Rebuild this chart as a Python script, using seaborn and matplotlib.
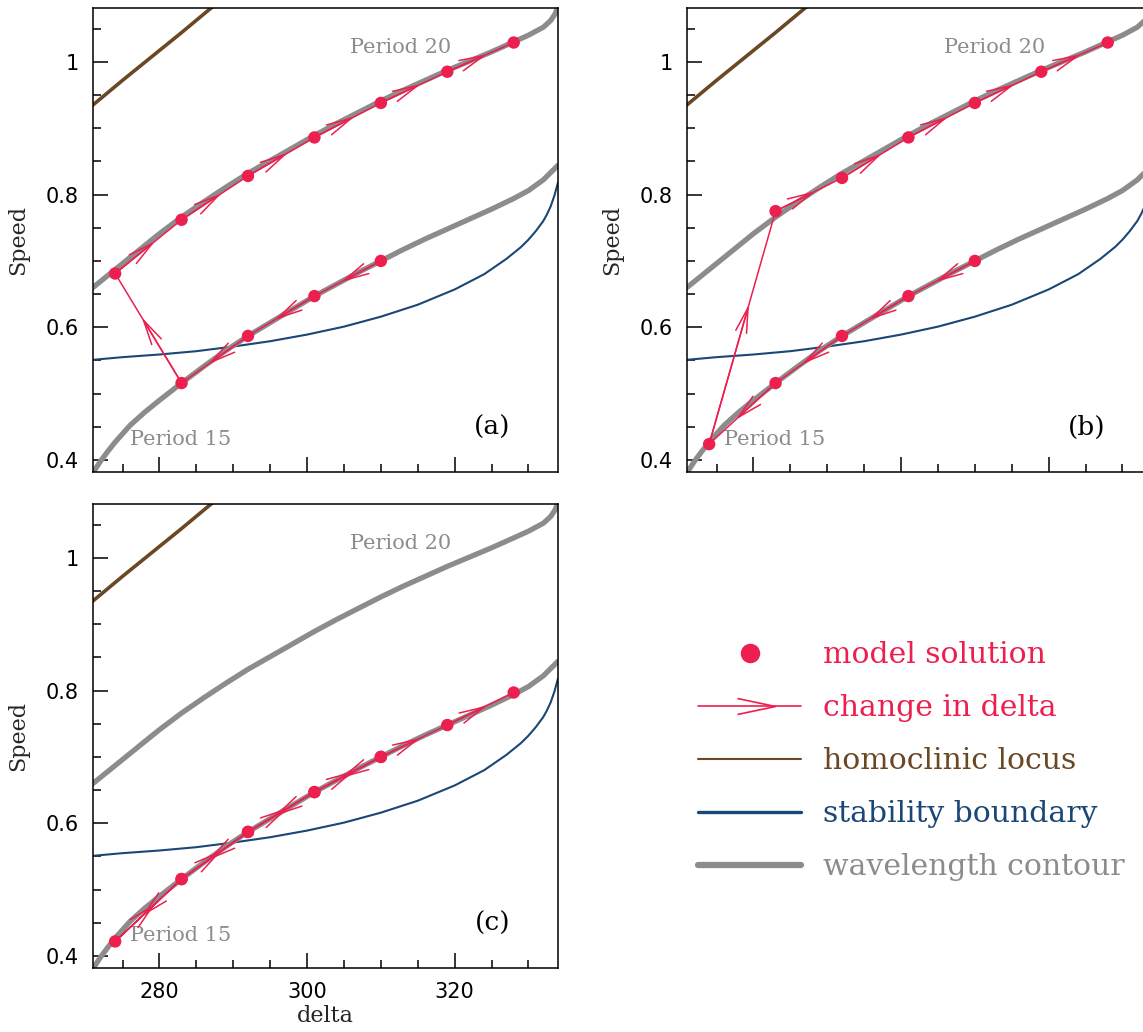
import matplotlib
matplotlib.use("Agg")
import matplotlib.pyplot as plt
from matplotlib.lines import Line2D
from matplotlib.path import Path
from matplotlib.ticker import MultipleLocator, FuncFormatter
import seaborn as sns

# --- curves (delta, speed) ---
p20_delta = [271, 274, 277, 280, 283, 286, 289, 292, 295, 298, 301, 304, 307,
             310, 313, 316, 319, 322, 325, 328, 330, 332, 333, 333.6, 334]
p20_speed = [0.660, 0.687, 0.714, 0.741, 0.766, 0.789, 0.811, 0.832, 0.851, 0.870,
             0.889, 0.907, 0.924, 0.941, 0.957, 0.972, 0.987, 1.001, 1.015, 1.030,
             1.040, 1.052, 1.062, 1.072, 1.083]

p15_delta = [271, 272, 273, 274, 276, 278, 280, 283, 286, 289, 292, 295, 298, 301,
             304, 307, 310, 313, 316, 319, 322, 325, 328, 330, 332, 334]
p15_speed = [0.381, 0.398, 0.413, 0.427, 0.452, 0.472, 0.490, 0.516, 0.541, 0.565,
             0.587, 0.607, 0.627, 0.647, 0.665, 0.683, 0.700, 0.717, 0.733, 0.748,
             0.763, 0.778, 0.794, 0.806, 0.822, 0.844]

stab_delta = [271, 275, 280, 285, 290, 295, 300, 305, 310, 315, 320, 324, 327, 328,
              329, 330, 331, 332, 332.5, 333, 333.5, 334]
stab_speed = [0.551, 0.555, 0.559, 0.564, 0.571, 0.579, 0.589, 0.601, 0.616, 0.634,
              0.657, 0.680, 0.703, 0.712, 0.721, 0.732, 0.745, 0.760, 0.770, 0.782,
              0.798, 0.818]

homo_delta = [271, 275, 279, 283, 287, 289]
homo_speed = [0.935, 0.972, 1.008, 1.044, 1.081, 1.099]

# --- model solutions, in the order delta is changed ---
path_delta = [310, 301, 292, 283, 274, 283, 292, 301, 310, 319, 328]
speed_a = [0.700, 0.647, 0.587, 0.516, 0.681, 0.762, 0.828, 0.886, 0.938, 0.985, 1.029]
speed_b = [0.700, 0.647, 0.587, 0.516, 0.424, 0.775, 0.825, 0.886, 0.938, 0.985, 1.029]
speed_c = [0.700, 0.647, 0.587, 0.516, 0.422, 0.516, 0.587, 0.647, 0.700, 0.748, 0.797]
panel_tags = ["(a)", "(b)", "(c)"]

legend_labels = ["model solution", "change in delta", "homoclinic locus",
                 "stability boundary", "wavelength contour"]

RED = "#ec1f4f"
BROWN = "#6b4824"
BLUE = "#1a4776"
GRAY = "#8c8c8c"

sns.set_style("ticks")
plt.rcParams["font.family"] = ["DejaVu Sans"]
SERIF = "DejaVu Serif"


def draw_panel(ax, speeds, tag, bottom_labels):
    sns.lineplot(x=homo_delta, y=homo_speed, ax=ax, color=BROWN, lw=2.6,
                 estimator=None, sort=False)
    sns.lineplot(x=stab_delta, y=stab_speed, ax=ax, color=BLUE, lw=1.5,
                 estimator=None, sort=False)
    sns.lineplot(x=p20_delta, y=p20_speed, ax=ax, color=GRAY, lw=3.8,
                 estimator=None, sort=False)
    sns.lineplot(x=p15_delta, y=p15_speed, ax=ax, color=GRAY, lw=3.8,
                 estimator=None, sort=False)

    # path of solutions with an open arrow head on every step
    sns.lineplot(x=path_delta, y=speeds, ax=ax, color=RED, lw=1.1,
                 estimator=None, sort=False, zorder=4)
    for i in range(len(path_delta) - 1):
        x0, y0 = path_delta[i], speeds[i]
        x1, y1 = path_delta[i + 1], speeds[i + 1]
        tip = (x0 + 0.6 * (x1 - x0), y0 + 0.6 * (y1 - y0))
        ax.annotate("", xy=tip, xytext=(x0, y0),
                    arrowprops=dict(arrowstyle="->,head_length=1.8,head_width=0.4",
                                    color=RED, lw=1.1, shrinkA=0, shrinkB=0,
                                    mutation_scale=10), zorder=4)
    sns.scatterplot(x=path_delta, y=speeds, ax=ax, color=RED, s=80,
                    edgecolor="none", zorder=5)

    ax.text(305.8, 1.021, "Period 20", color=GRAY, family=SERIF, fontsize=15,
            va="center", ha="left")
    ax.text(276.0, 0.431, "Period 15", color=GRAY, family=SERIF, fontsize=15,
            va="center", ha="left")
    ax.text(325.1, 0.449, tag, color="black", family=SERIF, fontsize=19,
            va="center", ha="center")

    ax.set_xlim(271, 334)
    ax.set_ylim(0.382, 1.081)
    ax.xaxis.set_major_locator(MultipleLocator(20))
    ax.xaxis.set_minor_locator(MultipleLocator(5))
    ax.yaxis.set_major_locator(MultipleLocator(0.2))
    ax.yaxis.set_minor_locator(MultipleLocator(0.05))
    ax.yaxis.set_major_formatter(FuncFormatter(lambda v, p: f"{v:g}"))
    ax.tick_params(which="both", direction="in", top=False, right=False,
                   width=1.1, colors="black", labelsize=15)
    ax.tick_params(which="major", length=11)
    ax.tick_params(which="minor", length=5.5)
    ax.tick_params(axis="y", pad=10)
    ax.tick_params(axis="x", pad=10, labelbottom=bottom_labels)
    for s in ax.spines.values():
        s.set_linewidth(1.1)
        s.set_color("black")
    ax.set_ylabel("Speed", fontsize=16, labelpad=12, family=SERIF)
    if bottom_labels:
        ax.set_xlabel("delta", fontsize=16, labelpad=2, family=SERIF)
    else:
        ax.set_xlabel("")


fig = plt.figure(figsize=(11.43, 10.32), dpi=100)
W, H = 1143, 1032
pw, ph = 465 / W, 464 / H
ax_a = fig.add_axes([93 / W, 1 - 472 / H, pw, ph])
ax_b = fig.add_axes([687 / W, 1 - 472 / H, pw, ph])
ax_c = fig.add_axes([93 / W, 1 - 968 / H, pw, ph])

draw_panel(ax_a, speed_a, panel_tags[0], False)
draw_panel(ax_b, speed_b, panel_tags[1], False)
draw_panel(ax_c, speed_c, panel_tags[2], True)

arrow_head = Path([(-0.52, 0.32), (1.0, 0.0), (-0.52, -0.32)],
                  [Path.MOVETO, Path.LINETO, Path.LINETO])
handles = [
    Line2D([], [], ls="none", marker="o", color=RED, markersize=13),
    Line2D([], [], color=RED, lw=1.2, marker=arrow_head, markersize=36,
           markerfacecolor="none", markeredgecolor=RED, markeredgewidth=1.2),
    Line2D([], [], color=BROWN, lw=1.5),
    Line2D([], [], color=BLUE, lw=2.4),
    Line2D([], [], color=GRAY, lw=4.5),
]
leg = fig.legend(handles, legend_labels, loc="upper left",
                 bbox_to_anchor=(698 / W, 1 - 641 / H), frameon=False,
                 prop=dict(family=SERIF, size=21.5), handlelength=3.45,
                 handletextpad=0.72, labelspacing=0.84, borderpad=0,
                 borderaxespad=0, numpoints=1)
for txt, c in zip(leg.get_texts(), [RED, RED, BROWN, BLUE, GRAY]):
    txt.set_color(c)

fig.savefig("out.png", dpi=100)
